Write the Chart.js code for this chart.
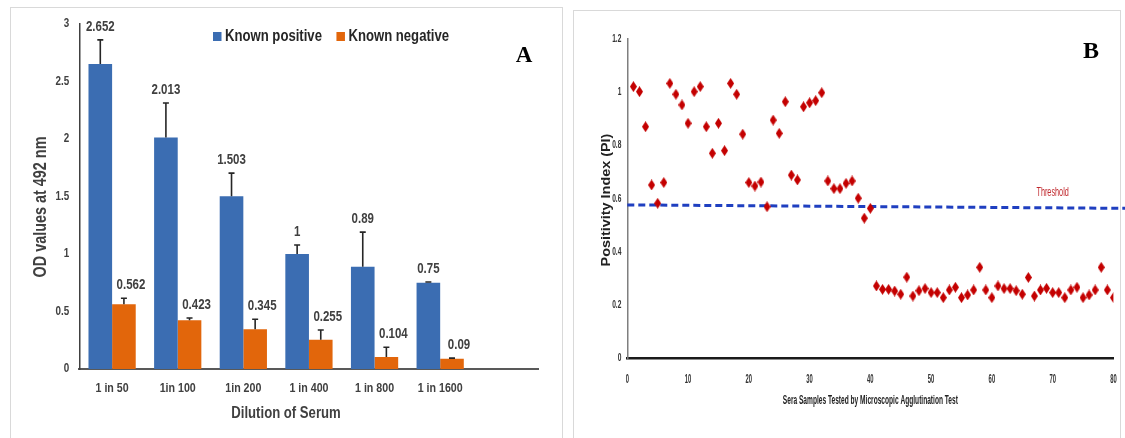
<!DOCTYPE html>
<html><head><meta charset="utf-8">
<script src="https://cdn.jsdelivr.net/npm/chart.js@4.4.1/dist/chart.umd.min.js"></script>
<style>
html,body{margin:0;padding:0;background:#fff;}
body{width:1125px;height:438px;position:relative;overflow:hidden;}
#boxA{position:absolute;left:10px;top:7px;width:553px;height:445px;border:1px solid #d9d9d9;box-sizing:border-box;}
#boxB{position:absolute;left:573px;top:10px;width:548px;height:445px;border:1px solid #d9d9d9;box-sizing:border-box;}
#cA{position:absolute;left:0;top:0;}
#cB{position:absolute;left:566px;top:0;}
</style></head><body>
<div id="boxA"></div><div id="boxB"></div>
<canvas id="cA" width="566" height="438"></canvas>
<canvas id="cB" width="559" height="438"></canvas>
<script>
// ---------- Panel A data ----------
const dilutions = ["1 in 50", "1in 100", "1in 200", "1 in 400", "1 in 800", "1 in 1600", ""];
const knownPositive = [2.652, 2.013, 1.503, 1, 0.89, 0.75];
const knownNegative = [0.562, 0.423, 0.345, 0.255, 0.104, 0.09];
const positiveError = [0.21, 0.30, 0.20, 0.078, 0.30, 0.006];
const negativeError = [0.053, 0.02, 0.087, 0.084, 0.085, 0.005];
const odTicks = [0, 0.5, 1, 1.5, 2, 2.5, 3];

// ---------- Panel B data ----------
const sampleIds = [1,2,3,4,5,6,7,8,9,10,11,12,13,14,15,16,17,18,19,20,21,22,23,24,25,26,27,28,29,30,31,32,33,34,35,36,37,38,39,40,41,42,43,44,45,46,47,48,49,50,51,52,53,54,55,56,57,58,59,60,61,62,63,64,65,66,67,68,69,70,71,72,73,74,75,76,77,78,79,80];
const positivityIndex = [1.021,1.002,0.870,0.651,0.582,0.660,1.033,0.992,0.952,0.883,
  1.002,1.021,0.870,0.770,0.883,0.780,1.033,0.992,0.842,0.660,
  0.647,0.662,0.569,0.895,0.845,0.964,0.688,0.670,0.945,0.960,
  0.968,0.998,0.666,0.637,0.637,0.657,0.666,0.601,0.526,0.563,
  0.271,0.258,0.258,0.252,0.240,0.304,0.233,0.253,0.261,0.246,
  0.246,0.227,0.256,0.266,0.227,0.237,0.256,0.341,0.256,0.227,
  0.271,0.261,0.261,0.253,0.240,0.303,0.233,0.256,0.262,0.246,
  0.246,0.227,0.256,0.266,0.227,0.237,0.256,0.341,0.256,0.227];
const thresholdX = [0, 82];
const thresholdY = [0.576, 0.563];
const piTicks = [0, 0.2, 0.4, 0.6, 0.8, 1, 1.2];
const sampleTicks = [0, 10, 20, 30, 40, 50, 60, 70, 80];

const SANS = '"Liberation Sans", Arial, sans-serif';
const SERIF = '"Liberation Serif", "Times New Roman", serif';
const NX = 0.82; // horizontal compression imitating a narrow face

function drawText(ctx, text, x, y, font, color, sx, align, rot) {
  ctx.save();
  ctx.translate(x, y);
  if (rot) ctx.rotate(rot);
  ctx.scale(sx || 1, 1);
  ctx.font = font; ctx.fillStyle = color;
  ctx.textAlign = align || 'center'; ctx.textBaseline = 'middle';
  ctx.fillText(text, 0, 0);
  ctx.restore();
}

// ---------- Panel A ----------
const panelAPlugin = {
  id: 'panelA',
  afterDatasetsDraw(chart) {
    const ctx = chart.ctx, y = chart.scales.y;
    const errs = [positiveError, negativeError];
    chart.data.datasets.forEach((ds, di) => {
      const meta = chart.getDatasetMeta(di);
      meta.data.forEach((bar, j) => {
        const v = ds.data[j];
        if (v == null) return;
        const top = y.getPixelForValue(v + errs[di][j]);
        ctx.save();
        ctx.strokeStyle = '#262626'; ctx.lineWidth = 1.6;
        ctx.beginPath();
        ctx.moveTo(bar.x, bar.y); ctx.lineTo(bar.x, top);
        ctx.moveTo(bar.x - 3, top); ctx.lineTo(bar.x + 3, top);
        ctx.stroke();
        ctx.restore();
        drawText(ctx, String(v), bar.x + (di ? 7 : 0), top - 13, 'bold 14px ' + SANS, '#404040', NX);
      });
    });
  },
  afterDraw(chart) {
    const ctx = chart.ctx, xs = chart.scales.x, ys = chart.scales.y;
    // tick labels
    ys.ticks.forEach(t => drawText(ctx, String(t.value), xs.left - 10, ys.getPixelForValue(t.value), 'bold 12px ' + SANS, '#404040', NX, 'right'));
    chart.data.labels.forEach((lab, i) => drawText(ctx, lab, xs.getPixelForValue(i), 388, 'bold 13px ' + SANS, '#404040', NX));
    // legend
    ctx.save();
    ctx.font = 'bold 16px ' + SANS;
    let lx = 213;
    chart.data.datasets.forEach(ds => {
      ctx.fillStyle = ds.backgroundColor;
      ctx.fillRect(lx, 32, 8.5, 9);
      lx += 12;
      drawText(ctx, ds.label, lx, 37, 'bold 16px ' + SANS, '#262626', NX, 'left');
      lx += ctx.measureText(ds.label).width * NX + 14.5;
    });
    ctx.restore();
    drawText(ctx, 'OD values at 492 nm', 41, 207, 'bold 18px ' + SANS, '#404040', 0.8, 'center', -Math.PI / 2);
    drawText(ctx, 'Dilution of Serum', 286, 414, 'bold 16px ' + SANS, '#404040', NX);
    drawText(ctx, 'A', 524, 56, 'bold 23px ' + SERIF, '#000');
  }
};

new Chart(document.getElementById('cA'), {
  type: 'bar',
  data: {
    labels: dilutions,
    datasets: [
      { label: 'Known positive', data: knownPositive, backgroundColor: '#3b6db2', borderWidth: 0, categoryPercentage: 0.72, barPercentage: 1 },
      { label: 'Known negative', data: knownNegative, backgroundColor: '#e2660b', borderWidth: 0, categoryPercentage: 0.72, barPercentage: 1 }
    ]
  },
  options: {
    responsive: false, animation: false, devicePixelRatio: 1,
    layout: { padding: { left: 0, right: 27.4, top: 24, bottom: 0 } },
    plugins: { legend: { display: false }, tooltip: { enabled: false } },
    scales: {
      x: {
        type: 'category', offset: true,
        grid: { display: false, drawTicks: false },
        border: { display: true, color: '#595959', width: 2 },
        ticks: { display: false },
        afterFit(s) { s.height = 69; }
      },
      y: {
        min: 0, max: 3,
        grid: { display: false, drawTicks: false },
        border: { display: true, color: '#404040', width: 1.5 },
        ticks: { display: false },
        afterBuildTicks(s) { s.ticks = odTicks.map(v => ({ value: v })); },
        afterFit(s) { s.width = 79.3; }
      }
    }
  },
  plugins: [panelAPlugin]
});

// ---------- Panel B ----------
function diamond(w, h, color) {
  const c = document.createElement('canvas');
  c.width = w; c.height = h;
  const g = c.getContext('2d');
  g.fillStyle = color;
  g.beginPath();
  g.moveTo(w / 2, 0); g.lineTo(w, h / 2); g.lineTo(w / 2, h); g.lineTo(0, h / 2);
  g.closePath(); g.fill();
  return c;
}
const diamondImg = diamond(7, 11, '#c40000');

const panelBPlugin = {
  id: 'panelB',
  afterDraw(chart) {
    const ctx = chart.ctx, xs = chart.scales.x, ys = chart.scales.y;
    ys.ticks.forEach(t => drawText(ctx, String(t.value), xs.left - 6, ys.getPixelForValue(t.value), 'bold 11px ' + SANS, '#333', 0.6, 'right'));
    xs.ticks.forEach(t => drawText(ctx, String(t.value), xs.getPixelForValue(t.value), 379, 'bold 13px ' + SANS, '#333', 0.45, 'center'));
    drawText(ctx, 'Sera Samples Tested by Microscopic Agglutination Test', (xs.left + xs.right) / 2, 401, 'bold 12px ' + SANS, '#222', 0.55);
    drawText(ctx, 'Positivity Index (PI)', 40.5, 200, 'bold 12px ' + SANS, '#222', 1.2, 'center', -Math.PI / 2);
    drawText(ctx, 'Threshold', xs.getPixelForValue(70), ys.getPixelForValue(thresholdY[1] + 0.058), '13px ' + SANS, '#c0282d', 0.56);
    drawText(ctx, 'B', 525, 52, 'bold 24px ' + SERIF, '#000');
  }
};

new Chart(document.getElementById('cB'), {
  type: 'scatter',
  data: {
    datasets: [
      {
        label: 'Positivity Index',
        data: sampleIds.map((id, i) => ({ x: id, y: positivityIndex[i] })),
        pointStyle: diamondImg, pointRadius: 5, backgroundColor: '#c40000', borderWidth: 0
      },
      {
        type: 'line', label: 'Threshold',
        data: thresholdX.map((x, i) => ({ x: x, y: thresholdY[i] })),
        showLine: true, borderColor: '#1f3fc0', borderWidth: 3, borderDash: [7, 4],
        pointRadius: 0, fill: false, clip: false
      }
    ]
  },
  options: {
    responsive: false, animation: false, devicePixelRatio: 1,
    layout: { padding: { left: 0, right: 11.6, top: 39, bottom: 0 } },
    plugins: { legend: { display: false }, tooltip: { enabled: false } },
    scales: {
      x: {
        type: 'linear', min: 0, max: 80,
        grid: { display: false, drawTicks: false },
        border: { display: true, color: '#1a1a1a', width: 2.5 },
        ticks: { display: false },
        afterBuildTicks(s) { s.ticks = sampleTicks.map(v => ({ value: v })); },
        afterFit(s) { s.height = 80; }
      },
      y: {
        type: 'linear', min: 0, max: 1.2,
        grid: { display: false, drawTicks: false },
        border: { display: true, color: '#7f7f7f', width: 1.5 },
        ticks: { display: false },
        afterBuildTicks(s) { s.ticks = piTicks.map(v => ({ value: v })); },
        afterFit(s) { s.width = 61.3; }
      }
    }
  },
  plugins: [panelBPlugin]
});
</script>
</body></html>
